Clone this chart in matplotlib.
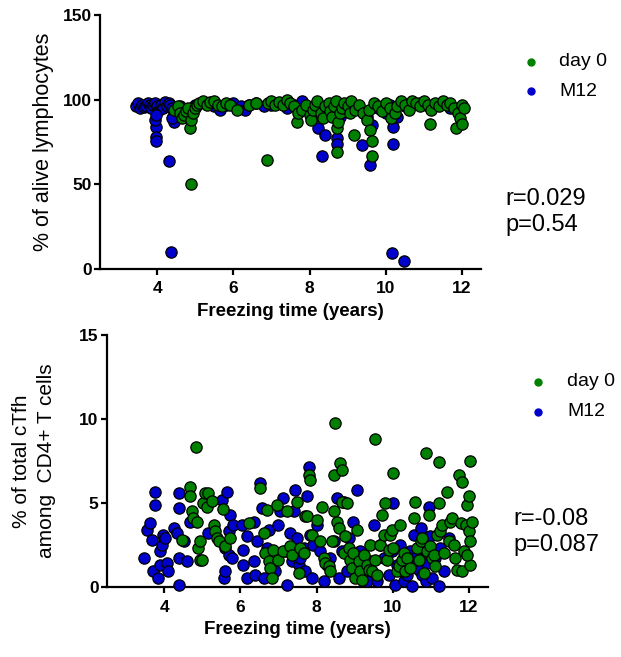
import matplotlib
matplotlib.use("Agg")
import matplotlib.pyplot as plt

plt.rcParams["font.family"] = ["Liberation Sans", "DejaVu Sans"]

GREEN = "#008000"
BLUE = "#0000cc"

# top panel: % of alive lymphocytes
alive_m12_x = [3.45, 3.5, 3.55, 3.6, 3.65, 3.7, 3.75, 3.8, 3.85, 3.9, 3.95, 4.0, 4.05, 4.1, 4.15,
               4.2, 4.25, 4.3, 4.35, 4.4, 4.45,
               3.96, 3.96, 3.96, 3.95, 3.96, 4.32, 4.37, 4.43, 4.4,
               4.6, 5.0, 5.3, 5.5, 5.65, 5.8, 6.0, 6.2, 6.3, 6.4, 6.6, 6.8, 7.0, 7.2, 7.4, 7.6,
               7.8, 7.9, 8.0, 8.1,
               8.23, 8.34, 8.41, 8.5, 8.6, 8.73, 8.73, 8.8, 9.0, 9.2, 9.39, 9.5, 9.6, 9.65, 9.8,
               10.0, 10.1, 10.17, 10.2, 10.2, 10.3, 10.48, 10.5, 10.7, 10.9, 11.1, 11.4, 11.7, 12.0]
alive_m12_y = [96, 98, 95, 97, 95.5, 96.5, 98, 97, 95, 97, 98, 96, 94, 97, 95,
               98.5, 96, 98, 97, 95, 92,
               84, 78, 75.5, 88, 91, 64, 10.3, 87, 89,
               96, 97, 98, 96, 94, 97, 98, 96, 94, 97, 98, 96, 97, 98, 95, 97,
               99, 95, 93, 90,
               83, 67, 79, 92, 95, 77.5, 74, 90, 94, 96, 73.4, 90, 61.3, 85, 95,
               92, 97, 9.3, 74, 84, 90, 4.7, 96, 97, 98, 96, 97, 95, 96]

alive_d0_x = [4.45, 4.55, 4.6, 4.65, 4.7, 4.75, 4.8, 4.85, 4.89, 4.9, 4.95, 5.0, 5.05, 5.1, 5.2,
              5.3, 5.4, 5.5, 5.6, 5.7, 5.8, 5.9, 6.1, 6.4, 6.6, 6.88, 6.9, 7.0, 7.1, 7.2, 7.3,
              7.4, 7.5, 7.6, 7.68, 7.7, 7.8, 7.9, 8.0, 8.05, 8.1, 8.15, 8.2, 8.3, 8.35, 8.4,
              8.5, 8.55, 8.6, 8.65, 8.7, 8.73, 8.73, 8.75, 8.8, 8.85, 8.9, 9.0, 9.05, 9.1,
              9.18, 9.2, 9.3, 9.4, 9.5, 9.55, 9.6, 9.65, 9.65, 9.7, 9.8, 9.9, 10.0, 10.1,
              10.15, 10.25, 10.3, 10.4, 10.5, 10.6, 10.7, 10.8, 10.9, 11.0, 11.1, 11.17,
              11.2, 11.3, 11.4, 11.5, 11.6, 11.7, 11.8, 11.85, 11.9, 11.95, 12.0, 12.0, 12.05]
alive_d0_y = [94, 96, 92, 89, 91, 93, 95, 83, 50.2, 88, 92, 95, 97, 98, 99,
              97, 98.5, 99, 97, 96, 98, 97, 94, 97, 98, 64.6, 98, 99, 97, 98.5, 97,
              99.5, 98, 96, 87, 92, 94, 97, 91, 88, 94, 97, 99, 92, 89, 96,
              98, 93, 90, 96, 99, 69, 83, 87, 92, 95, 98, 96, 92, 99,
              79.3, 94, 97, 92, 88, 94, 82, 75.5, 66.6, 98, 96, 93, 98, 95,
              89, 92, 96, 99, 97, 94, 99, 98, 96, 99, 97, 85.4,
              94, 98, 96, 99, 97, 98, 95, 83.4, 92, 89, 85.8, 97, 95]

# bottom panel: % of total cTfh among CD4+ T cells
tfh_m12_x = [3.46, 3.54, 3.63, 3.68, 3.72, 3.76, 3.76, 3.85, 3.89, 3.94, 3.89, 3.98, 4.03, 4.07,
             4.11, 4.25, 4.33, 4.38, 4.38, 4.38, 4.38, 4.51, 4.60, 4.68, 5.16, 5.51, 5.56, 5.60,
             5.60, 5.65, 5.69, 5.69, 5.73, 5.78, 5.82, 6.04, 6.08, 6.08, 6.17, 6.17, 6.35, 6.35,
             6.39, 6.43, 6.52, 6.57, 6.61, 6.70, 6.74, 6.83, 6.92, 7.00, 7.05, 7.13, 7.18, 7.22,
             7.31, 7.35, 7.40, 7.44, 7.49, 7.53, 7.57, 7.66, 7.70, 7.75, 7.79, 7.84, 7.88, 7.92,
             8.01, 8.10, 8.19, 8.27, 8.36, 8.45, 8.54, 8.58, 8.67, 8.71, 8.80, 8.84, 8.97, 9.02,
             9.06, 9.15, 9.24, 9.32, 9.41, 9.50, 9.59, 9.67, 9.76, 9.89, 9.98, 10.02, 10.07,
             10.11, 10.20, 10.29, 10.37, 10.46, 10.50, 10.55, 10.59, 10.68, 10.73, 10.77, 10.81,
             10.86, 10.90, 10.94, 10.99, 11.03, 11.12, 11.21, 11.25, 11.34, 11.47]
tfh_m12_y = [1.72, 3.41, 3.80, 2.81, 0.93, 5.68, 4.89, 0.53, 2.12, 2.51, 1.33, 3.11, 2.91, 1.43,
             0.93, 3.50, 3.21, 5.58, 4.69, 1.72, 0.14, 2.71, 1.52, 3.90, 3.21, 5.19, 0.53, 0.93,
             2.32, 5.68, 3.31, 1.92, 4.30, 1.72, 3.70, 3.70, 1.33, 2.22, 0.53, 3.01, 3.90, 1.52,
             0.73, 2.71, 6.18, 4.69, 0.53, 2.32, 3.41, 1.43, 0.93, 3.70, 4.50, 5.29, 2.12, 0.14,
             3.21, 1.52, 4.50, 5.78, 2.91, 1.33, 1.72, 2.32, 0.93, 5.39, 7.17, 3.11, 0.53, 2.51,
             3.70, 2.12, 0.34, 1.33, 1.72, 2.71, 5.29, 0.53, 2.12, 5.09, 0.93, 2.91, 3.90, 1.33,
             5.78, 2.12, 0.73, 0.34, 1.52, 3.70, 0.34, 2.51, 1.72, 0.73, 2.12, 4.99, 0.14,
             1.33, 2.51, 0.34, 0.73, 2.12, 0.04, 3.11, 1.72, 1.03, 3.50, 0.73, 2.12,
             0.34, 1.43, 4.79, 3.01, 0.53, 1.72, 0.04, 2.32, 0.93, 2.91]

tfh_d0_x = [4.46, 4.68, 4.67, 4.73, 4.77, 4.84, 4.86, 4.90, 4.95, 4.95, 4.99, 5.03, 5.08, 5.12,
            5.16, 5.25, 5.30, 5.34, 5.38, 5.43, 5.54, 5.60, 5.73, 6.22, 6.52, 6.61, 6.65, 6.70,
            6.74, 6.78, 6.83, 6.87, 6.96, 7.00, 7.13, 7.22, 7.31, 7.35, 7.49, 7.53, 7.57, 7.66,
            7.70, 7.75, 7.79, 7.84, 7.88, 8.01, 8.10, 8.14, 8.19, 8.23, 8.32, 8.36, 8.40, 8.45,
            8.45, 8.49, 8.54, 8.58, 8.62, 8.67, 8.67, 8.71, 8.75, 8.80, 8.84, 8.89, 8.93, 8.97,
            9.02, 9.06, 9.11, 9.15, 9.19, 9.24, 9.32, 9.37, 9.41, 9.46, 9.54, 9.54, 9.59, 9.67,
            9.72, 9.76, 9.81, 9.85, 9.89, 9.94, 9.98, 10.02, 10.02, 10.11, 10.16, 10.20, 10.24,
            10.29, 10.33, 10.37, 10.46, 10.55, 10.59, 10.64, 10.68, 10.73, 10.77, 10.81, 10.86,
            10.90, 10.94, 10.99, 11.03, 11.08, 11.12, 11.16, 11.21, 11.21, 11.25, 11.29, 11.34,
            11.43, 11.47, 11.51, 11.56, 11.60, 11.64, 11.69, 11.73, 11.78, 11.82, 11.82, 11.86,
            11.91, 11.95, 11.99, 11.99, 12.02, 12.04, 12.08, 12.04, 11.95]
tfh_d0_y = [2.77, 5.98, 5.39, 4.50, 4.10, 8.36, 3.90, 2.32, 2.71, 1.62, 1.62, 4.99, 5.58, 4.79,
            5.58, 5.13, 3.70, 3.31, 2.91, 2.75, 4.65, 2.42, 2.91, 3.80, 5.88, 3.21, 2.02, 4.59,
            1.52, 1.13, 0.53, 2.22, 4.89, 1.62, 2.12, 4.50, 2.42, 1.92, 5.09, 0.83, 2.32, 2.02,
            4.20, 4.20, 6.67, 6.38, 3.11, 4.00, 2.71, 4.79, 1.72, 1.43, 1.23, 0.93, 2.71, 6.67,
            4.50, 9.74, 3.90, 3.50, 7.37, 6.97, 5.09, 2.02, 3.01, 4.99, 2.32, 1.62, 1.13, 2.02,
            0.53, 3.41, 1.52, 0.93, 0.44, 1.92, 1.33, 1.03, 2.51, 0.93, 8.81, 1.62, 0.73, 2.51,
            4.30, 3.11, 4.99, 1.62, 2.22, 3.11, 3.41, 6.81, 2.32, 0.93, 1.23, 3.70, 1.62,
            2.02, 0.93, 1.72, 1.13, 4.10, 5.09, 2.32, 1.62, 2.71, 2.91, 0.83, 7.96,
            2.12, 4.30, 2.42, 1.72, 1.92, 1.23, 3.11, 7.47, 4.99, 3.31, 3.70, 2.02,
            5.68, 2.71, 3.90, 4.10, 2.51, 1.72, 1.03, 6.67, 3.80, 6.28, 0.93, 2.12,
            3.70, 4.89, 3.31, 5.43, 7.50, 2.71, 3.90, 1.33, 1.92]

series_labels = ["day 0", "M12"]
x_ticks = [4, 6, 8, 10, 12]
stats_alive = "r=0.029\np=0.54"
stats_tfh = "r=-0.08\np=0.087"


def style_axes(ax, ylim, yticks):
    ax.set_xlim(2.5, 12.5)
    ax.set_ylim(*ylim)
    ax.set_xticks(x_ticks)
    ax.set_yticks(yticks)
    for s in ("top", "right"):
        ax.spines[s].set_visible(False)
    for s in ("left", "bottom"):
        ax.spines[s].set_linewidth(1.6)
    ax.tick_params(width=1.6, length=4, labelsize=12.5, pad=2)
    ax.tick_params(axis="x", pad=5)
    for lab in ax.get_xticklabels() + ax.get_yticklabels():
        lab.set_fontweight("bold")
    ax.set_xlabel("Freezing time (years)", fontsize=13.5, fontweight="bold", labelpad=5)


def draw_points(ax, m12_x, m12_y, d0_x, d0_y):
    kw = dict(s=66, edgecolors="black", linewidths=0.9, clip_on=False, zorder=3)
    ax.scatter(m12_x, m12_y, color=BLUE, **kw)
    ax.scatter(d0_x, d0_y, color=GREEN, **kw)


fig = plt.figure(figsize=(6.21, 6.57), dpi=100)

ax1 = fig.add_axes([0.161, 0.5906, 0.6135, 0.3866])
draw_points(ax1, alive_m12_x, alive_m12_y, alive_d0_x, alive_d0_y)
style_axes(ax1, (0, 150), [0, 50, 100, 150])
ax1.set_ylabel("% of alive lymphocytes", fontsize=15.5, labelpad=6)

ax2 = fig.add_axes([0.1723, 0.1065, 0.6135, 0.3836])
draw_points(ax2, tfh_m12_x, tfh_m12_y, tfh_d0_x, tfh_d0_y)
style_axes(ax2, (0, 15), [0, 5, 10, 15])
ax2.set_ylabel("% of total cTfh\namong  CD4+ T cells", fontsize=15, labelpad=17,
               linespacing=1.4)


# legends and stats drawn as figure text
def legend_block(x_dot, x_txt, y0, y1):
    for y, lab, col in ((y0, series_labels[0], GREEN), (y1, series_labels[1], BLUE)):
        fig.lines.append(plt.Line2D([x_dot / 621], [1 - y / 657], marker="o", ms=5,
                                    color=col, transform=fig.transFigure))
        fig.text(x_txt / 621, 1 - y / 657, lab, fontsize=14, va="center", ha="left")


legend_block(531, 559, 62, 91)
legend_block(538, 567, 382, 412)

fig.text(505 / 621, 1 - 212 / 657, stats_alive, fontsize=17, va="center", ha="left",
         linespacing=1.2)
fig.text(513 / 621, 1 - 532 / 657, stats_tfh, fontsize=17, va="center", ha="left",
         linespacing=1.2)

fig.savefig("out.png", dpi=100)
